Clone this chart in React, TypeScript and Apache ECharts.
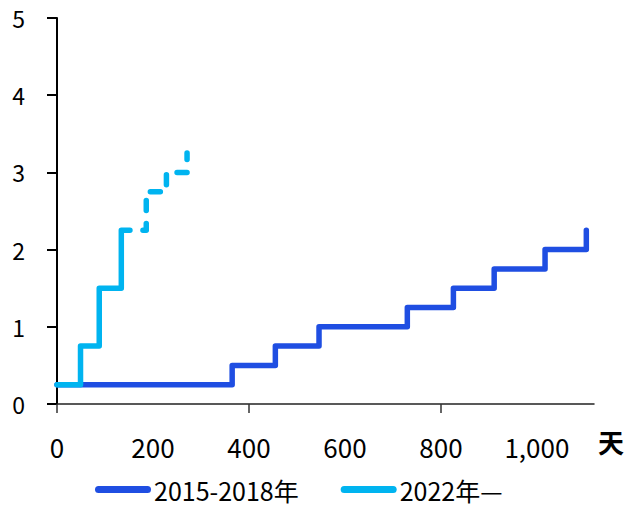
import React, { useEffect, useRef } from "react";
import * as echarts from "echarts";

// Days since start of easing cycle / cumulative cut (percentage points)
const days2015 = [0, 365, 455, 546, 730, 826, 911, 1017, 1103];
const values2015 = [0.25, 0.5, 0.75, 1.0, 1.25, 1.5, 1.75, 2.0, 2.25];

const days2022Solid = [0, 49, 88, 134, 152];
const values2022Solid = [0.25, 0.75, 1.5, 2.25, 2.25];

const days2022Dash = [152, 186, 228, 271];
const values2022Dash = [2.25, 2.75, 3.0, 3.25];

const xLabelValues = [0, 200, 400, 600, 800, 1000];
const xTickValues = [0, 400, 800];
const legendNames = ["2015-2018年", "2022年—"];

const FONT = "Noto Sans CJK SC";
const DARK = "#1F4EE2";
const LIGHT = "#00B4F0";

const zip = (xs: number[], ys: number[]) => xs.map((x, i) => [x, ys[i]]);

export default function App() {
  const ref = useRef<HTMLDivElement>(null);
  useEffect(() => {
    if (!ref.current) return;
    const chart = echarts.init(ref.current, undefined, { renderer: "svg" });
    const capsule = "path://M3.5,0 L52.5,0 A3.5,3.5 0 0 1 52.5,7 L3.5,7 A3.5,3.5 0 0 1 3.5,0 Z";
    chart.setOption({
      animation: false,
      backgroundColor: "#fff",
      grid: { left: 57, right: 43, top: 18, bottom: 104, containLabel: false },
      legend: {
        data: [
          { name: legendNames[0], icon: capsule },
          { name: legendNames[1], icon: capsule },
        ],
        left: 95,
        top: 477,
        padding: 0,
        itemWidth: 56,
        itemHeight: 7,
        itemGap: 42,
        textStyle: { fontSize: 25, lineHeight: 24, height: 24, color: "#000", fontFamily: FONT, padding: [0, 0, 0, -2] },
      },
      xAxis: {
        type: "value",
        min: 0,
        max: 1119,
        interval: 200,
        splitLine: { show: false },
        axisLine: { show: true, lineStyle: { color: "#222", width: 1.5 } },
        axisTick: { show: true, length: 9, customValues: xTickValues, lineStyle: { color: "#333", width: 1.5 } },
        axisLabel: {
          customValues: xLabelValues,
          fontSize: 26,
          color: "#000",
          fontFamily: FONT,
          margin: 29,
          formatter: (v: number) => v.toLocaleString("en-US"),
        },
      },
      yAxis: {
        type: "value",
        min: 0,
        max: 5,
        interval: 1,
        splitLine: { show: false },
        axisLine: { show: true, lineStyle: { color: "#000", width: 2 } },
        axisTick: { show: true, length: 10, lineStyle: { color: "#000", width: 2 } },
        axisLabel: { fontSize: 23, color: "#000", fontFamily: FONT, margin: 32 },
      },
      graphic: [
        {
          type: "text",
          x: 611,
          y: 441,
          style: {
            text: "天",
            fontSize: 26,
            fontWeight: "bold",
            fill: "#000",
            fontFamily: FONT,
            textAlign: "center",
            textVerticalAlign: "middle",
          },
        },
      ],
      series: [
        {
          name: legendNames[0],
          type: "line",
          step: "end",
          showSymbol: false,
          symbol: "none",
          data: zip(days2015, values2015),
          itemStyle: { color: DARK },
          lineStyle: { color: DARK, width: 5.5, cap: "round", join: "round" },
          z: 2,
        },
        {
          name: legendNames[1],
          type: "line",
          step: "end",
          showSymbol: false,
          symbol: "none",
          data: zip(days2022Solid, values2022Solid),
          itemStyle: { color: LIGHT },
          lineStyle: { color: LIGHT, width: 5.5, cap: "round", join: "round" },
          z: 3,
        },
        {
          name: "2022dash",
          type: "line",
          step: "end",
          showSymbol: false,
          symbol: "none",
          data: zip(days2022Dash, values2022Dash),
          itemStyle: { color: LIGHT },
          lineStyle: { color: LIGHT, width: 5.5, type: [10, 13], dashOffset: 10, cap: "round", join: "round" },
          z: 3,
        },
      ],
    });
    return () => chart.dispose();
  }, []);
  return (
    <div
      ref={ref}
      style={{ position: "absolute", left: 0, top: 0, width: 637, height: 508 }}
    />
  );
}
